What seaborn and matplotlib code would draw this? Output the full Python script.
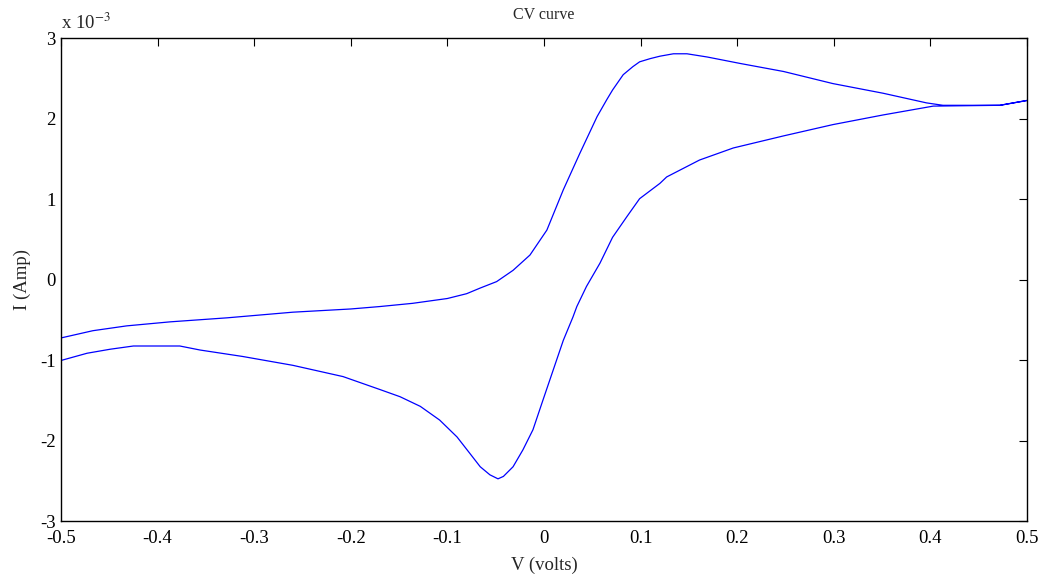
import numpy as np
import pandas as pd
import matplotlib
matplotlib.use("Agg")
import matplotlib.pyplot as plt
import seaborn as sns

# Forward sweep (-0.5 V -> 0.5 V): potential in volts, current in units of 1e-3 A
v_fwd = [-0.500, -0.467, -0.432, -0.387, -0.328, -0.260, -0.200, -0.170, -0.136,
         -0.100, -0.080, -0.066, -0.049, -0.032, -0.0145, 0.003, 0.020, 0.037, 0.055,
         0.065, 0.071, 0.082, 0.092, 0.099, 0.110, 0.120, 0.134, 0.148, 0.169,
         0.203, 0.248, 0.299, 0.351, 0.396, 0.413, 0.472, 0.500]
i_fwd = [-0.72, -0.63, -0.57, -0.52, -0.47, -0.40, -0.36, -0.33, -0.29,
         -0.23, -0.17, -0.10, -0.02, 0.12, 0.31, 0.62, 1.12, 1.57, 2.03,
         2.24, 2.36, 2.55, 2.65, 2.71, 2.75, 2.78, 2.81, 2.81, 2.77,
         2.69, 2.59, 2.44, 2.32, 2.20, 2.17, 2.17, 2.23]

# Reverse sweep (0.5 V -> -0.5 V)
v_rev = [0.500, 0.472, 0.403, 0.351, 0.299, 0.248, 0.196, 0.161, 0.127, 0.120,
         0.099, 0.086, 0.071, 0.058, 0.044, 0.034, 0.030, 0.020, 0.0095, -0.001,
         -0.0114, -0.0218, -0.032, -0.042, -0.0476, -0.056, -0.066, -0.077,
         -0.090, -0.108, -0.128, -0.149, -0.170, -0.208, -0.260, -0.312,
         -0.356, -0.377, -0.398, -0.425, -0.449, -0.473, -0.500]
i_rev = [2.23, 2.17, 2.16, 2.05, 1.93, 1.79, 1.64, 1.49, 1.28, 1.20,
         1.01, 0.79, 0.53, 0.21, -0.08, -0.33, -0.46, -0.75, -1.12, -1.49,
         -1.86, -2.11, -2.32, -2.44, -2.47, -2.42, -2.32, -2.15,
         -1.95, -1.74, -1.57, -1.45, -1.36, -1.20, -1.06, -0.95,
         -0.87, -0.82, -0.82, -0.82, -0.86, -0.91, -1.00]

x_ticks = [-0.5, -0.4, -0.3, -0.2, -0.1, 0, 0.1, 0.2, 0.3, 0.4, 0.5]
x_ticklabels = ["-0.5", "-0.4", "-0.3", "-0.2", "-0.1", "0", "0.1", "0.2", "0.3", "0.4", "0.5"]
y_ticks = [-3, -2, -1, 0, 1, 2, 3]
y_ticklabels = ["-3", "-2", "-1", "0", "1", "2", "3"]

df = pd.DataFrame({
    "V": v_fwd + v_rev,
    "I": i_fwd + i_rev,
})

sns.set_style("white")
plt.rcParams["font.family"] = ["Liberation Serif", "DejaVu Serif"]
plt.rcParams["mathtext.fontset"] = "stix"

fig = plt.figure(figsize=(10.44, 5.77), dpi=100)
ax = fig.add_axes([0.0584, 0.0962, 0.9253, 0.8371])

sns.lineplot(data=df, x="V", y="I", sort=False, estimator=None,
             color="#0000ff", linewidth=0.9, ax=ax)

ax.set_xlim(-0.5, 0.5)
ax.set_ylim(-3, 3)
ax.set_xticks(x_ticks)
ax.set_xticklabels(x_ticklabels)
ax.set_yticks(y_ticks)
ax.set_yticklabels(y_ticklabels)
ax.tick_params(direction="in", length=6, width=0.8, top=True, right=True,
               labelsize=13.5, colors="black")
ax.tick_params(axis="x", pad=6)
ax.tick_params(axis="y", pad=4)
for s in ax.spines.values():
    s.set_linewidth(1.0)
    s.set_color("black")
    s.set_visible(True)

ax.set_xlabel("V (volts)", fontsize=13.5, labelpad=7)
ax.set_ylabel("I (Amp)", fontsize=13.5, labelpad=6)
ax.set_title("CV curve", fontsize=11.5, pad=14)
ax.text(0.0, 1.012, r"x 10$^{-3}$", transform=ax.transAxes,
        fontsize=13.5, ha="left", va="bottom")

fig.savefig("out.png", dpi=100, facecolor="white")
